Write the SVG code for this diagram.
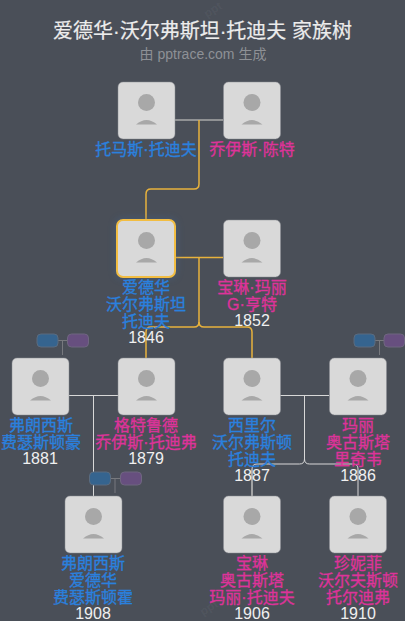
<svg xmlns="http://www.w3.org/2000/svg" width="405" height="621" viewBox="0 0 405 621">
<style>
text{font-family:"Liberation Sans","Noto Sans CJK SC",sans-serif;text-anchor:middle}
.t{font-size:20px;fill:#ececec;stroke:#ececec;stroke-width:.2}
.s{font-size:14px;fill:#8e9196}
.m,.f,.y{font-size:16px}
.m,.f{transform:translateY(-.5px);stroke-width:.35}
.m{fill:#2a80de;stroke:#2a80de}
.f{fill:#dd3399;stroke:#dd3399}
.y{fill:#f0f0f0}
.k{font-size:12px;font-weight:700;fill:#fff;fill-opacity:.05;text-anchor:start}
.b{fill:#d9d9d9;stroke:#8a8d92;stroke-width:.5}
.h{fill:#d9d9d9;stroke:#f2bd42;stroke-width:2}
.a{fill:#a8a8a8}
.g,.w,.p{fill:none}
.g{stroke:#e8b23c;stroke-width:1.5}
.w{stroke:#d8d8d8;stroke-width:1}
.p{stroke:#77797e;stroke-width:1}
.p1{fill:#35648f;stroke:#5a6b7f}
.p2{fill:#674f7f;stroke:#6f6680}
</style>
<defs>
<g id="av"><circle cx="28.500" cy="20.500" r="8.500" class="a"/><path d="M18 42.500Q28.500 33.500 39 42.500Z" class="a"/></g>
<filter id="glow" x="-30%" y="-30%" width="160%" height="160%"><feGaussianBlur stdDeviation="4"/></filter>
</defs>
<rect width="405" height="621" fill="#4a4f58"/>
<text class="k" transform="translate(207 18) rotate(-32)">ppt</text>
<text class="k" transform="translate(203 616) rotate(-32)">ppt</text>
<text x="202.500" y="38" class="t">爱德华·沃尔弗斯坦·托迪夫 家族树</text>
<text x="203" y="59" class="s">由 pptrace.com 生成</text>
<g id="connectors">
<path d="M175 120H223" stroke="#a8a8a8" stroke-width="1.500" fill="none"/>
<path class="g" d="M199 120V184Q199 189 194 189H151Q146 189 146 194V220"/>
<path class="g" d="M175 257.500H223"/>
<path class="g" d="M199 257.500V322Q199 327 194 327H151Q146 327 146 332V358"/>
<path class="g" d="M199 322Q199 327 204 327H247Q252 327 252 332V358"/>
<path class="w" d="M69 395.500H118M93.500 395.500V496"/>
<path class="w" d="M280 395.500H329"/>
<path class="w" d="M304.500 395.500V459Q304.500 464 299.500 464H257Q252 464 252 469V496"/>
<path d="M252 469V496" stroke="#a8a8a8" stroke-width="1.500" fill="none"/>
<path class="w" d="M304.500 459Q304.500 464 309.500 464H353Q358 464 358 469V496"/>
<path class="p" d="M58 340.500H67M62.500 340.500V355"/>
<path class="p" d="M110 478.500H120M115 478.500V493"/>
<path class="p" d="M375 340.500H384M379.500 340.500V355"/>
</g>
<g id="badges">
<rect class="p1" x="37" y="334" width="21" height="13" rx="4"/><rect class="p2" x="67.500" y="334" width="21" height="13" rx="4"/>
<rect class="p1" x="89.500" y="472" width="21" height="13" rx="4"/><rect class="p2" x="120.500" y="472" width="21" height="13" rx="4"/>
<rect class="p1" x="354" y="334" width="21" height="13" rx="4"/><rect class="p2" x="384" y="334" width="20.500" height="13" rx="4"/>
</g>
<g id="n1"><rect class="b" x="118" y="82" width="57" height="57" rx="5"/><use href="#av" x="118" y="82"/><text class="m" x="146" y="155">托马斯·托迪夫</text></g>
<g id="n2"><rect class="b" x="223.500" y="82" width="57" height="57" rx="5"/><use href="#av" x="223.500" y="82"/><text class="f" x="252" y="155">乔伊斯·陈特</text></g>
<g id="n3"><rect x="117" y="220" width="58" height="57" rx="5" fill="#3b6aa8" opacity=".5" filter="url(#glow)"/><rect class="h" x="117" y="220" width="58" height="57" rx="6"/><use href="#av" x="118" y="220"/><text class="m" x="146" y="293">爱德华</text><text class="m" x="146" y="310">沃尔弗斯坦</text><text class="m" x="146" y="327">托迪夫</text><text class="y" x="146" y="343">1846</text></g>
<g id="n4"><rect class="b" x="223.500" y="220" width="57" height="57" rx="5"/><use href="#av" x="223.500" y="220"/><text class="f" x="252" y="293">宝琳·玛丽</text><text class="f" x="252" y="310">G·亨特</text><text class="y" x="252" y="326">1852</text></g>
<g id="n5"><rect class="b" x="12" y="358" width="57" height="57" rx="5"/><use href="#av" x="12" y="358"/><text class="m" x="41" y="431">弗朗西斯</text><text class="m" x="41" y="448">费瑟斯顿豪</text><text class="y" x="40" y="464">1881</text></g>
<g id="n6"><rect class="b" x="118" y="358" width="57" height="57" rx="5"/><use href="#av" x="118" y="358"/><text class="f" x="146" y="431">格特鲁德</text><text class="f" x="146" y="448">乔伊斯·托迪弗</text><text class="y" x="146" y="464">1879</text></g>
<g id="n7"><rect class="b" x="223.500" y="358" width="57" height="57" rx="5"/><use href="#av" x="223.500" y="358"/><text class="m" x="252" y="431">西里尔</text><text class="m" x="252" y="448">沃尔弗斯顿</text><text class="m" x="252" y="465">托迪夫</text><text class="y" x="252" y="481">1887</text></g>
<g id="n8"><rect class="b" x="329.500" y="358" width="57" height="57" rx="5"/><use href="#av" x="329.500" y="358"/><text class="f" x="358" y="431">玛丽</text><text class="f" x="358" y="448">奥古斯塔</text><text class="f" x="358" y="465">里奇韦</text><text class="y" x="358" y="481">1886</text></g>
<g id="n9"><rect class="b" x="65" y="496" width="57" height="57" rx="5"/><use href="#av" x="65" y="496"/><text class="m" x="93" y="569">弗朗西斯</text><text class="m" x="93" y="586">爱德华</text><text class="m" x="93" y="603">费瑟斯顿霍</text><text class="y" x="93" y="619">1908</text></g>
<g id="n10"><rect class="b" x="223.500" y="496" width="57" height="57" rx="5"/><use href="#av" x="223.500" y="496"/><text class="f" x="252" y="569">宝琳</text><text class="f" x="252" y="586">奥古斯塔</text><text class="f" x="252" y="603">玛丽·托迪夫</text><text class="y" x="252" y="619">1906</text></g>
<g id="n11"><rect class="b" x="329.500" y="496" width="57" height="57" rx="5"/><use href="#av" x="329.500" y="496"/><text class="f" x="358" y="569">珍妮菲</text><text class="f" x="358" y="586">沃尔夫斯顿</text><text class="f" x="358" y="603">托尔迪弗</text><text class="y" x="358" y="619">1910</text></g>
</svg>
